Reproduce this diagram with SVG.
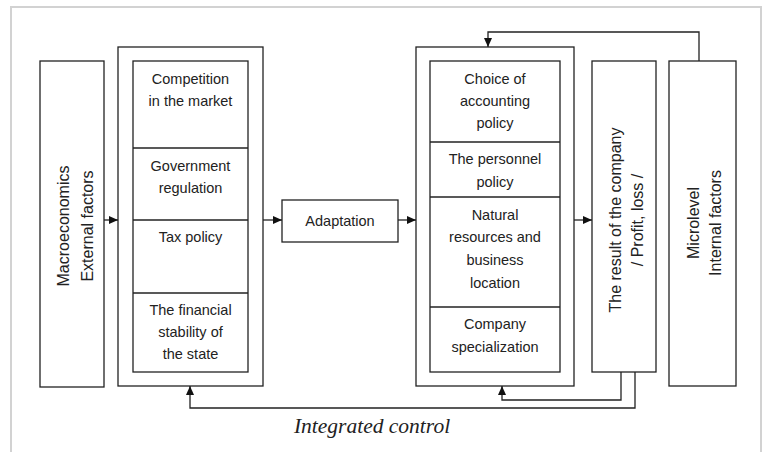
<svg xmlns="http://www.w3.org/2000/svg" width="763" height="452" viewBox="0 0 763 452">
<style>
.b{fill:#fff;stroke:#222;stroke-width:1.3}
.t{font-family:"Liberation Sans",Arial,sans-serif;font-size:14.5px;fill:#222;text-anchor:middle}
.v{font-family:"Liberation Sans",Arial,sans-serif;font-size:16px;fill:#222;text-anchor:middle}
.c{fill:none;stroke:#222;stroke-width:1.3}
</style>
<defs>
<marker id="ah" markerWidth="9" markerHeight="8" refX="9" refY="4" orient="auto" markerUnits="userSpaceOnUse">
<path d="M0,0 L9,4 L0,8 Z" fill="#111"/>
</marker>
</defs>
<rect x="0" y="0" width="763" height="452" fill="#fff"/>
<rect x="11" y="7" width="750" height="460" fill="none" stroke="#d2d2d2" stroke-width="2"/>

<g id="macro">
<rect class="b" x="40" y="61" width="64" height="326"/>
<text class="v" transform="translate(69,226) rotate(-90)">Macroeconomics</text>
<text class="v" transform="translate(93,226) rotate(-90)">External factors</text>
</g>

<g id="external-group">
<rect class="b" x="118" y="47" width="145" height="339"/>
<rect class="b" x="133" y="61" width="115" height="311"/>
<line class="c" x1="133" y1="148" x2="248" y2="148"/>
<line class="c" x1="133" y1="220" x2="248" y2="220"/>
<line class="c" x1="133" y1="293" x2="248" y2="293"/>
</g>
<g id="competition"><text class="t" x="190.5" y="84">Competition</text><text class="t" x="190.5" y="106">in the market</text></g>
<g id="government"><text class="t" x="190.5" y="171">Government</text><text class="t" x="190.5" y="193">regulation</text></g>
<g id="tax"><text class="t" x="190.5" y="242">Tax policy</text></g>
<g id="financial"><text class="t" x="190.5" y="315">The financial</text><text class="t" x="190.5" y="337">stability of</text><text class="t" x="190.5" y="359">the state</text></g>

<g id="adaptation">
<rect class="b" x="282" y="200" width="116" height="42"/>
<text class="t" x="340" y="226">Adaptation</text>
</g>

<g id="internal-group">
<rect class="b" x="416" y="47" width="158" height="339"/>
<rect class="b" x="430" y="61" width="130" height="311"/>
<line class="c" x1="430" y1="142" x2="560" y2="142"/>
<line class="c" x1="430" y1="197" x2="560" y2="197"/>
<line class="c" x1="430" y1="307" x2="560" y2="307"/>
</g>
<g id="accounting"><text class="t" x="495" y="84">Choice of</text><text class="t" x="495" y="106">accounting</text><text class="t" x="495" y="128">policy</text></g>
<g id="personnel"><text class="t" x="495" y="164">The personnel</text><text class="t" x="495" y="187">policy</text></g>
<g id="natural"><text class="t" x="495" y="220">Natural</text><text class="t" x="495" y="242">resources and</text><text class="t" x="495" y="265">business</text><text class="t" x="495" y="288">location</text></g>
<g id="specialization"><text class="t" x="495" y="329">Company</text><text class="t" x="495" y="352">specialization</text></g>

<g id="result">
<rect class="b" x="592" y="61" width="64" height="311"/>
<text class="v" transform="translate(621,220) rotate(-90)">The result of the company</text>
<text class="v" transform="translate(643,220) rotate(-90)">/ Profit, loss /</text>
</g>

<g id="micro">
<rect class="b" x="669" y="61" width="67" height="325"/>
<text class="v" transform="translate(699,223) rotate(-90)">Microlevel</text>
<text class="v" transform="translate(721,223) rotate(-90)">Internal factors</text>
</g>

<g id="connectors">
<line class="c" x1="104" y1="220" x2="118" y2="220" marker-end="url(#ah)"/>
<line class="c" x1="263" y1="220" x2="282" y2="220" marker-end="url(#ah)"/>
<line class="c" x1="398" y1="220" x2="416" y2="220" marker-end="url(#ah)"/>
<line class="c" x1="574" y1="220" x2="592" y2="220" marker-end="url(#ah)"/>
<polyline class="c" points="699,61 699,32 488,32 488,47" marker-end="url(#ah)"/>
<polyline class="c" points="621,372 621,400 502,400 502,386" marker-end="url(#ah)"/>
<polyline class="c" points="635,372 635,408 190,408 190,386" marker-end="url(#ah)"/>
</g>

<text x="372" y="433" font-family="'Liberation Serif','Times New Roman',serif" font-style="italic" font-size="21.5" fill="#222" text-anchor="middle">Integrated control</text>
</svg>
